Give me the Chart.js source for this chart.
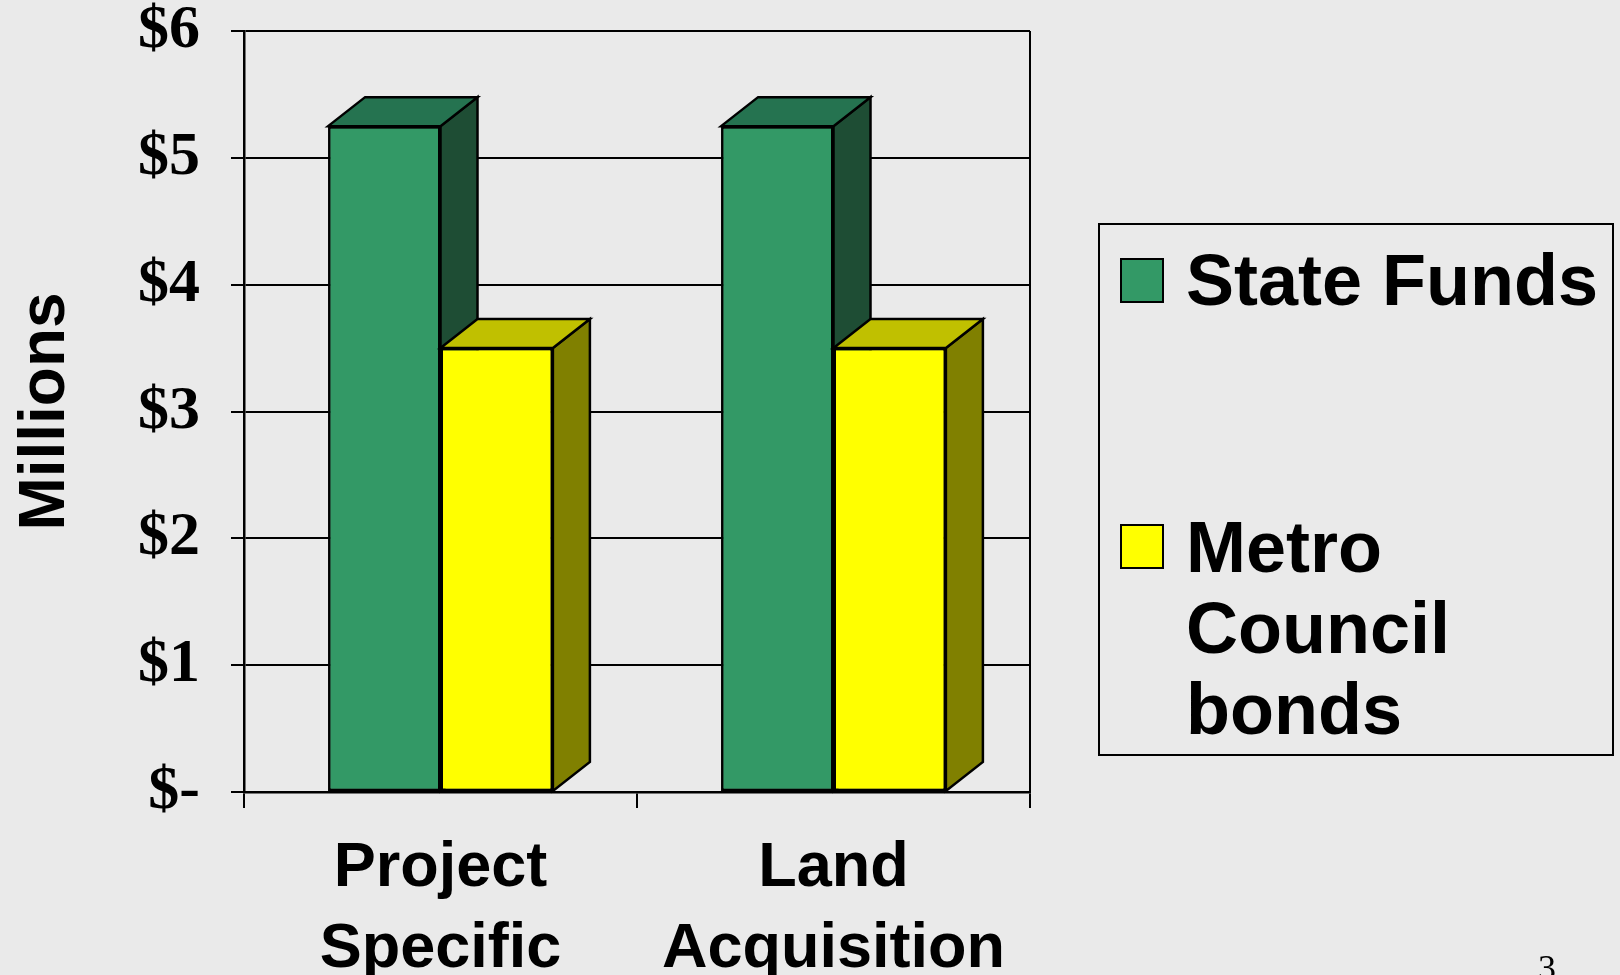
<!DOCTYPE html>
<html>
<head>
<meta charset="utf-8">
<script src="https://cdn.jsdelivr.net/npm/chart.js@4"></script>
<style>
  body { margin: 0; background: #eaeaea; }
  canvas { display: block; }
</style>
</head>
<body>
<canvas id="chart" width="1620" height="975"></canvas>
<script>
// chart data
const categories = [["Project", "Specific"], ["Land", "Acquisition"]];
const stateFunds = [5.25, 5.25];
const metroBonds = [3.5, 3.5];
const seriesNames = ["State Funds", "Metro Council bonds"];
const legendLines = [["State Funds"], ["Metro", "Council", "bonds"]];
const yMin = 0, yMax = 6, yStep = 1;
const pageNumber = "3";

// 3d look of the bars
const DX = 37, DY = 29;
const faces = [
  { front: "#339966", top: "#257350", side: "#1e4d34" },
  { front: "#ffff00", top: "#c0c000", side: "#808000" }
];

function poly(ctx, pts, fill) {
  ctx.beginPath();
  ctx.moveTo(pts[0][0], pts[0][1]);
  for (let k = 1; k < pts.length; k++) ctx.lineTo(pts[k][0], pts[k][1]);
  ctx.closePath();
  ctx.fillStyle = fill;
  ctx.fill();
  ctx.stroke();
}

const bars3d = {
  id: "bars3d",
  beforeDatasetsDraw(chart) {
    const {ctx, chartArea: a} = chart;
    ctx.save();
    ctx.strokeStyle = "#000";
    ctx.lineWidth = 2;
    ctx.beginPath();
    ctx.moveTo(a.right, a.top);
    ctx.lineTo(a.right, a.bottom);
    ctx.stroke();
    ctx.restore();
  },
  afterDatasetsDraw(chart) {
    const ctx = chart.ctx;
    const metas = chart.data.datasets.map((d, i) => chart.getDatasetMeta(i));
    for (let j = 0; j < categories.length; j++) {
      metas.forEach((meta, i) => {
        const bar = meta.data[j];
        bar.draw(ctx);
        const {x, y, base, width} = bar.getProps(["x", "y", "base", "width"], true);
        const l = x - width / 2, r = x + width / 2;
        ctx.save();
        ctx.strokeStyle = "#000";
        ctx.lineWidth = 2.5;
        ctx.lineJoin = "miter";
        poly(ctx, [[r, y], [r + DX, y - DY], [r + DX, base - DY], [r, base]], faces[i].side);
        poly(ctx, [[l, y], [l + DX, y - DY], [r + DX, y - DY], [r, y]], faces[i].top);
        ctx.restore();
      });
    }
  }
};

const boxLegend = {
  id: "boxLegend",
  afterDraw(chart) {
    const ctx = chart.ctx;
    ctx.save();
    ctx.strokeStyle = "#000";
    ctx.lineWidth = 2;
    ctx.strokeRect(1099, 224, 514, 531);
    const swatchY = [259, 525];
    const textY = [305, 572];
    ctx.font = "bold 72px 'Liberation Sans', Arial, sans-serif";
    ctx.textBaseline = "alphabetic";
    legendLines.forEach((lines, i) => {
      ctx.fillStyle = faces[i].front;
      ctx.fillRect(1121, swatchY[i], 42, 43);
      ctx.strokeRect(1121, swatchY[i], 42, 43);
      ctx.fillStyle = "#000";
      lines.forEach((t, k) => ctx.fillText(t, 1186, textY[i] + k * 81));
    });
    // slide number
    ctx.font = "36px 'Liberation Serif', 'Times New Roman', serif";
    ctx.textAlign = "center";
    ctx.fillText(pageNumber, 1547, 980);
    ctx.restore();
  }
};

const ctx = document.getElementById("chart").getContext("2d");
const chart = new Chart(ctx, {
  type: "bar",
  data: {
    labels: categories,
    datasets: [
      {
        label: seriesNames[0],
        data: stateFunds,
        backgroundColor: faces[0].front,
        borderColor: "#000",
        borderWidth: 2.5,
        borderSkipped: false
      },
      {
        label: seriesNames[1],
        data: metroBonds,
        backgroundColor: faces[1].front,
        borderColor: "#000",
        borderWidth: 2.5,
        borderSkipped: false
      }
    ]
  },
  options: {
    responsive: false,
    animation: false,
    devicePixelRatio: 1,
    layout: { padding: { left: 0, top: 31, right: 590, bottom: 0 } },
    datasets: { bar: { categoryPercentage: 0.572, barPercentage: 1.0 } },
    plugins: {
      legend: { display: false },
      tooltip: { enabled: false }
    },
    scales: {
      x: {
        afterFit: s => { s.height = 183; },
        grid: { drawOnChartArea: false, color: "#000", lineWidth: 2, tickLength: 16, offset: true },
        border: { color: "#000", width: 2.5 },
        ticks: {
          color: "#000",
          padding: 20,
          maxRotation: 0,
          font: { family: "'Liberation Sans', Arial, sans-serif", size: 63, weight: "bold", lineHeight: 1.29 }
        }
      },
      y: {
        min: yMin,
        max: yMax,
        afterFit: s => { s.width = 244; s.paddingTop = 0; s.paddingBottom = 0; },
        grid: { color: "#000", lineWidth: 2, tickLength: 13 },
        border: { color: "#000", width: 2.5 },
        title: {
          display: true,
          text: "Millions",
          color: "#000",
          padding: { top: 8, bottom: 0 },
          font: { family: "'Liberation Sans', Arial, sans-serif", size: 64, weight: "bold", lineHeight: 1.2 }
        },
        ticks: {
          stepSize: yStep,
          color: "#000",
          padding: 31,
          font: { family: "'Liberation Serif', 'Times New Roman', serif", size: 62, weight: "bold", lineHeight: 1 },
          callback: v => v === 0 ? "$-" : "$" + v
        }
      }
    }
  },
  plugins: [bars3d, boxLegend]
});
</script>
</body>
</html>
